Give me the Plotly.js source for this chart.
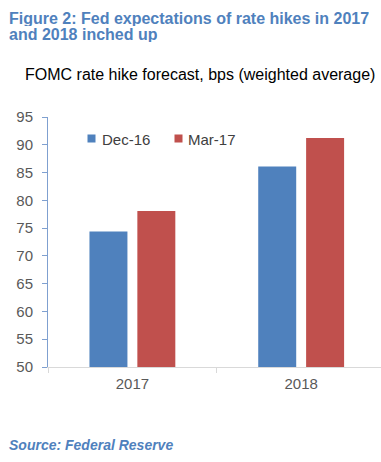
<!DOCTYPE html>
<html>
<head>
<meta charset="utf-8">
<script src="https://cdn.plot.ly/plotly-3.0.1.min.js"></script>
<style>html,body{margin:0;padding:0;background:#fff;}#chart{width:381px;height:462px;}</style>
</head>
<body>
<div id="chart"></div>
<script>
const categories = ['2017', '2018'];
const seriesNames = ['Dec-16', 'Mar-17'];
const dec16 = [74.4, 86.1];
const mar17 = [78.1, 91.2];
const seriesColors = ['#4F81BD', '#C0504D'];
const yTicks = [50, 55, 60, 65, 70, 75, 80, 85, 90, 95];

const titleLine1 = 'Figure 2: Fed expectations of rate hikes in 2017';
const titleLine2 = 'and 2018 inched up';
const subtitle = 'FOMC rate hike forecast, bps (weighted average)';
const sourceText = 'Source: Federal Reserve';

const W = 381, H = 462;
const L = 48, R = 0, T = 117, B = 95;
const pw = W - L - R, ph = H - T - B;
const px = v => (v - L) / pw;
const py = v => (H - B - v) / ph;

const seriesData = [dec16, mar17];
const traces = seriesData.map((vals, i) => ({
  type: 'bar',
  name: seriesNames[i],
  x: categories,
  y: vals,
  marker: {color: seriesColors[i], line: {width: 0}},
  showlegend: false,
  hoverinfo: 'skip'
}));

const font = 'Liberation Sans, Arial, sans-serif';
const blue = '#4F81BD';

const annotations = [
  {text: '<b>' + titleLine1 + '</b>', x: px(8), y: py(17.8), xanchor: 'left', yanchor: 'middle', height: 16,
   font: {family: font, size: 16, color: blue}},
  {text: '<b>' + titleLine2 + '</b>', x: px(8), y: py(34.4), xanchor: 'left', yanchor: 'middle', height: 16,
   font: {family: font, size: 16, color: blue}},
  {text: subtitle, x: px(24), y: py(74.5), xanchor: 'left', yanchor: 'middle',
   font: {family: font, size: 16, color: '#000000'}},
  {text: '<b><i>' + sourceText + '</i></b>', x: px(8), y: py(445), xanchor: 'left', yanchor: 'middle',
   font: {family: font, size: 14, color: blue}}
];

// legend
const legendSquareX = [91.5, 178];
const legendTextX = [100.7, 186.7];
seriesNames.forEach((n, i) => {
  annotations.push({text: ' ', x: px(legendSquareX[i]), y: py(138), xanchor: 'center', yanchor: 'middle',
    width: 7, height: 7, bgcolor: seriesColors[i], borderpad: 0, font: {size: 4}});
  annotations.push({text: n, x: px(legendTextX[i]), y: py(139.5), xanchor: 'left', yanchor: 'middle',
    font: {family: font, size: 15, color: '#404040'}});
});
annotations.forEach(a => { a.xref = 'paper'; a.yref = 'paper'; a.showarrow = false; if (a.borderpad === undefined) a.borderpad = 0; });

const layout = {
  width: W, height: H,
  margin: {l: L, r: R, t: T, b: B, pad: 0},
  paper_bgcolor: '#ffffff', plot_bgcolor: '#ffffff',
  barmode: 'group', bargap: 0.4325, bargroupgap: 0.207,
  showlegend: false,
  xaxis: {
    type: 'category', range: [-0.5, 1.473], fixedrange: true,
    showline: true, linecolor: '#D9D9D9', linewidth: 1,
    ticks: 'outside', tickson: 'boundaries', ticklen: 5, tickcolor: '#D9D9D9', tickwidth: 1,
    showgrid: false, zeroline: false, ticklabelstandoff: 3,
    tickfont: {family: font, size: 15, color: '#595959'}
  },
  yaxis: {
    range: [50, 95], tickvals: yTicks, ticktext: yTicks.map(String), fixedrange: true,
    showline: true, linecolor: '#7FA0D0', linewidth: 1,
    ticks: 'outside', ticklen: 5, tickcolor: '#7FA0D0', tickwidth: 1,
    showgrid: false, zeroline: false, ticklabelstandoff: 6,
    tickfont: {family: font, size: 15, color: '#595959'}
  },
  annotations: annotations
};

Plotly.newPlot('chart', traces, layout, {displayModeBar: false, staticPlot: true});
</script>
</body>
</html>
